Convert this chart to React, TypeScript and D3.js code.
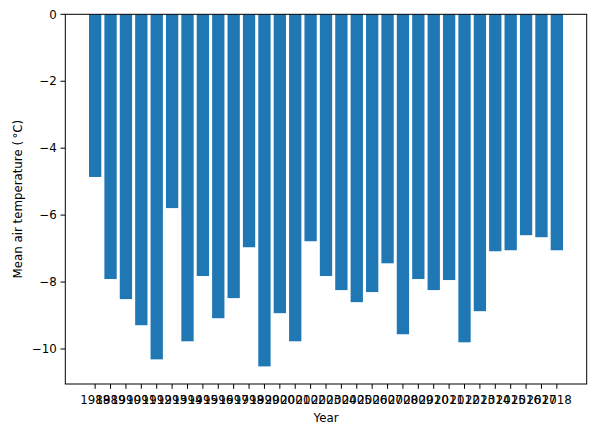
import React from 'react';
import * as d3 from 'd3';

// yearly mean air temperature
const years: number[] = d3.range(1988, 2019);
const temps: number[] = [
  -4.86, -7.91, -8.51, -9.29, -10.31, -5.79, -9.77, -7.82, -9.08, -8.48,
  -6.96, -10.52, -8.93, -9.77, -6.78, -7.82, -8.24, -8.60, -8.30, -7.44,
  -9.56, -7.91, -8.24, -7.94, -9.80, -8.87, -7.08, -7.05, -6.60, -6.66, -7.05,
];
const yTicks: number[] = [0, -2, -4, -6, -8, -10];

const W = 595;
const H = 435;
const margin = { top: 14.3, right: 8.3, bottom: 51, left: 65.3 };
const FONT = 'DejaVu Sans, sans-serif';
const FS = 11.8;

const App: React.FC = () => {
  const plotW = W - margin.left - margin.right;
  const plotH = H - margin.top - margin.bottom;

  // matplotlib style limits: 5% margin on x, sticky zero at the top
  const n = years.length;
  const pad = 0.05 * (n - 1 + 0.8);
  const x = d3.scaleLinear().domain([-0.4 - pad, n - 1 + 0.4 + pad]).range([0, plotW]);
  const minV = d3.min(temps) || 0;
  const y = d3.scaleLinear().domain([minV * 1.05, 0]).range([plotH, 0]);
  const fmt = d3.format('d');

  return (
    <div style={{ position: 'absolute', left: 0, top: 0 }}>
      <svg width={W} height={H} style={{ display: 'block', background: '#fff' }}>
        <g transform={`translate(${margin.left},${margin.top})`}>
          {temps.map((v, i) => (
            <rect
              key={years[i]}
              x={x(i - 0.4)}
              width={x(i + 0.4) - x(i - 0.4)}
              y={y(0)}
              height={y(v) - y(0)}
              fill="#1f77b4"
            />
          ))}

          {/* x ticks */}
          {years.map((yr, i) => (
            <g key={yr} transform={`translate(${x(i)},${plotH})`}>
              <line y2={4.8} stroke="#000" strokeWidth={1} />
              <text y={19.5} textAnchor="middle" fontFamily={FONT} fontSize={FS} fill="#000">
                {yr}
              </text>
            </g>
          ))}

          {/* y ticks */}
          {yTicks.map((t) => (
            <g key={t} transform={`translate(0,${y(t)})`}>
              <line x2={-4.8} stroke="#000" strokeWidth={1} />
              <text x={-8.5} dy="0.36em" textAnchor="end" fontFamily={FONT} fontSize={FS} fill="#000">
                {fmt(t)}
              </text>
            </g>
          ))}

          <rect x={0} y={0} width={plotW} height={plotH} fill="none" stroke="#000" strokeWidth={1} />

          <text
            x={plotW / 2}
            y={plotH + 38.5}
            textAnchor="middle"
            fontFamily={FONT}
            fontSize={FS}
            fill="#000"
          >
            Year
          </text>
          <text
            transform={`translate(${-margin.left + 21.5},${plotH / 2}) rotate(-90)`}
            textAnchor="middle"
            fontFamily={FONT}
            fontSize={FS}
            fill="#000"
          >
            Mean air temperature ({'\u2009'}°C)
          </text>
        </g>
      </svg>
    </div>
  );
};

export default App;
